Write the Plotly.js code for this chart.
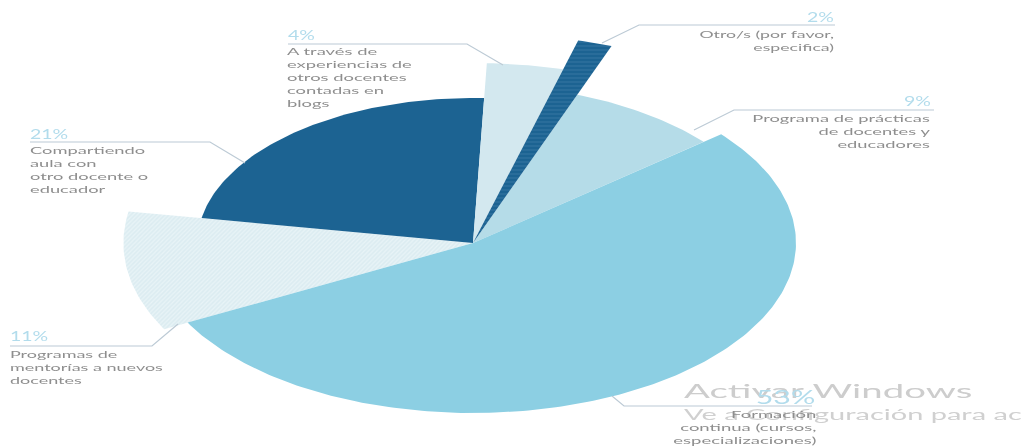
<!DOCTYPE html>
<html><head><meta charset="utf-8">
<script src="https://cdn.plot.ly/plotly-3.0.1.min.js"></script>
<style>html,body{margin:0;padding:0;background:#fff;overflow:hidden}#c{width:1025px;height:447px;filter:blur(0.45px)}</style>
</head><body><div id="c"></div>
<script>
// Data
const categories = ['Formación continua (cursos, especializaciones)','Programas de mentorías a nuevos docentes','Compartiendo aula con otro docente o educador','A través de experiencias de otros docentes contadas en blogs','Otro/s (por favor, especifica)','Programa de prácticas de docentes y educadores'];
const percentLabels = ['53%','11%','21%','4%','2%','9%'];
// share of the full turn each wedge takes in the picture
const wedgeShares = [53.3,10.5,22.9,3.6,1.4,8.3];
const labelLines = [
 'Formación<br>continua (cursos,<br>especializaciones)',
 'Programas de<br>mentorías a nuevos<br>docentes',
 'Compartiendo<br>aula con<br>otro docente o<br>educador',
 'A través de<br>experiencias de<br>otros docentes<br>contadas en<br>blogs',
 'Otro/s (por favor,<br>especifica)',
 'Programa de prácticas<br>de docentes y<br>educadores'];
const watermark = ['Activar Windows','Ve a Configuración para ac'];

// Styles and positions
const cx=473, cy=243, aspect=1.9, startDeg=39.8;
const radii=[170,184,145,180,210,158];
const colors=['#8ccfe3','#dcecf1','#1c6392','#d3e8ef','#1c6392','#b5dce8'];
const drawOrder=[1,2,3,5,4,0];
const patterns={1:{shape:'/',bgcolor:'#dcecf1',fgcolor:'#e9f4f7',size:3,solidity:0.4},4:{shape:'-',bgcolor:'#1c6392',fgcolor:'#3b7ba6',size:4,solidity:0.2}};
const leaders=[
 [[612,396],[624,406],[812,406]],
 [[10,346],[152,346],[178,324]],
 [[30,142],[210,142],[245,163]],
 [[288,44],[467,44],[503,65]],
 [[835,25],[639,25],[602,43]],
 [[934,110],[734,110],[694,130]]];
const pctPos=[[816,396,'right',19,1.6],[9,336,'left',13,1.5],[29,134,'left',13,1.5],[287,35,'left',13,1.5],[835,17,'right',13,1.5],[932,101,'right',13,1.5]];
const textPos=[[818,427,'right',1.85],[9,367,'left',1.8],[29,169,'left',1.83],[286,76.5,'left',1.84],[835,40.5,'right',1.77],[932,131,'right',1.83]];

// Wedges follow the shares
let a=startDeg; const spans=wedgeShares.map(s=>{const from=a; a-=s*3.6; return [from,a];});
function wedge(i){
  const xs=[cx], ys=[cy], [from,to]=spans[i], n=Math.max(8,Math.ceil(from-to));
  for(let k=0;k<=n;k++){const t=(from+(to-from)*k/n)*Math.PI/180;
    xs.push(cx+aspect*radii[i]*Math.cos(t)); ys.push(cy-radii[i]*Math.sin(t));}
  xs.push(cx); ys.push(cy); return {xs,ys};
}
const traces=drawOrder.map(i=>{const w=wedge(i);const tr={type:'scatter',mode:'lines',x:w.xs,y:w.ys,fill:'toself',fillcolor:colors[i],line:{width:0,color:colors[i]},name:categories[i],hoverinfo:'name',showlegend:false};
  if(patterns[i]) tr.fillpattern=patterns[i]; return tr;});
leaders.forEach(l=>traces.push({type:'scatter',mode:'lines',x:l.map(p=>p[0]),y:l.map(p=>p[1]),line:{color:'#bccad5',width:1.2},hoverinfo:'skip',showlegend:false}));

const anns=[], scales=[];
function add(text,x,y,align,size,color,sx,fam){anns.push({text,x,y,xref:'x',yref:'y',xanchor:align,yanchor:'middle',align,showarrow:false,borderpad:0,font:{family:fam||'Lato',size,color}});scales.push([sx,align]);}
add(watermark[0],683,390,'left',20,'#cdcdcd',1.92);
add(watermark[1],683,414,'left',14.5,'#d0d0d0',2.0);
percentLabels.forEach((p,i)=>add(p,pctPos[i][0],pctPos[i][1],pctPos[i][2],pctPos[i][3],'#b2dcec',pctPos[i][4]));
labelLines.forEach((t,i)=>add(t,textPos[i][0],textPos[i][1],textPos[i][2],10,'#8e8e8e',textPos[i][3]));

Plotly.newPlot('c',traces,{width:1025,height:447,margin:{l:0,r:0,t:0,b:0},paper_bgcolor:'#fff',plot_bgcolor:'#fff',
 xaxis:{range:[0,1025],visible:false,fixedrange:true},yaxis:{range:[447,0],visible:false,fixedrange:true},annotations:anns,showlegend:false},
 {displayModeBar:false,staticPlot:true}).then(gd=>{
  gd.querySelectorAll('.annotation').forEach((g,i)=>{const t=g.querySelector('text');if(!t||!scales[i])return;
    t.style.transformBox='fill-box';t.style.transformOrigin=(scales[i][1]==='right'?'right':'left')+' center';t.style.transform='scaleX('+scales[i][0]+')';});
 });
</script></body></html>
